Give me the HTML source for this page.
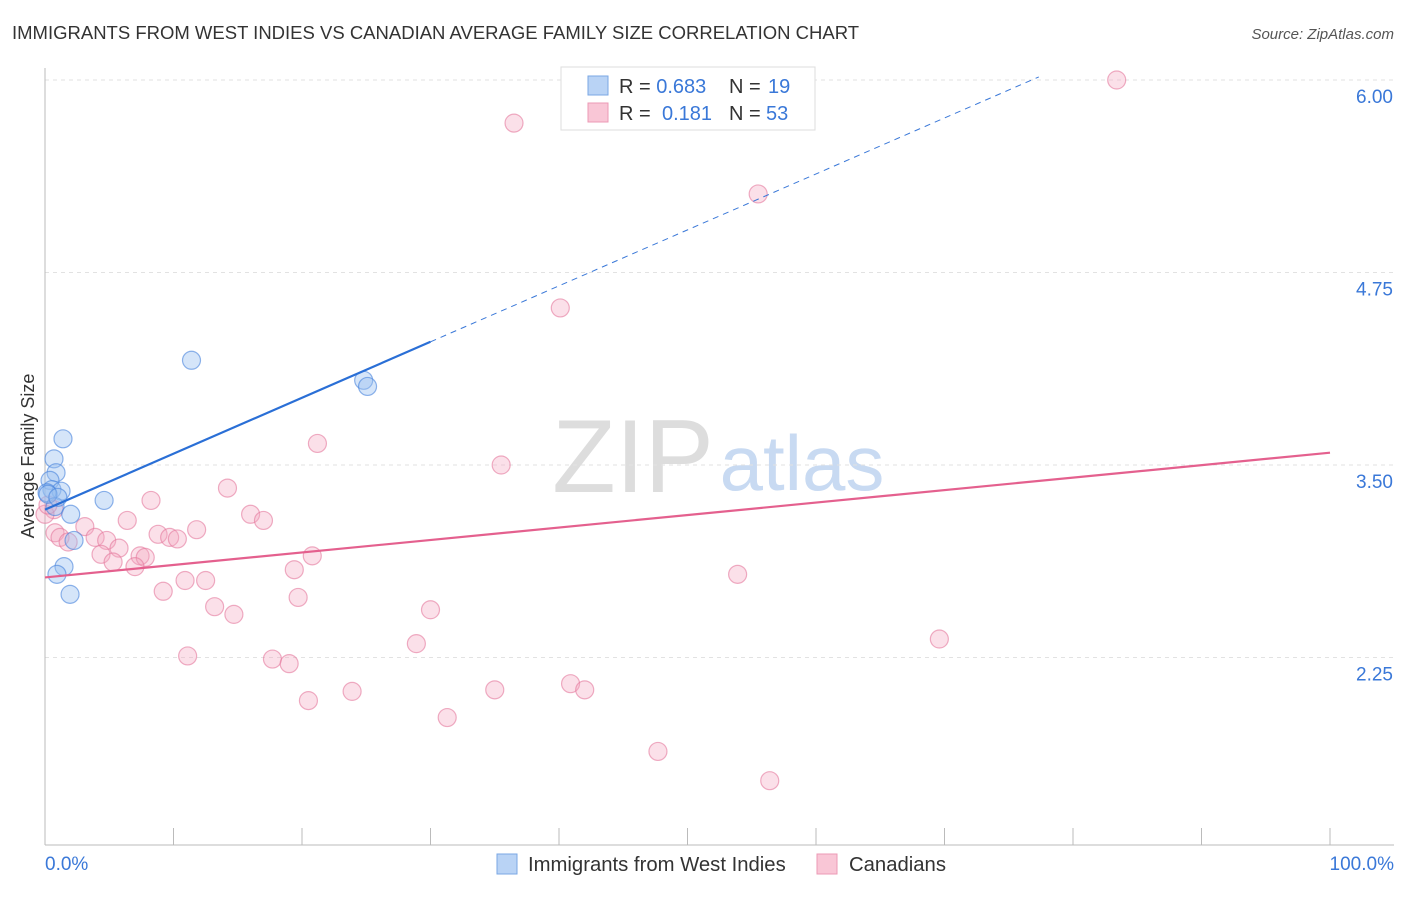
<!DOCTYPE html>
<html><head><meta charset="utf-8"><style>
body{margin:0;background:#fff;font-family:"Liberation Sans",sans-serif}
svg text{font-family:"Liberation Sans",sans-serif}
</style></head><body>
<svg id="c" width="1406" height="892">
<text x="12" y="39" font-size="18.5" fill="#333">IMMIGRANTS FROM WEST INDIES VS CANADIAN AVERAGE FAMILY SIZE CORRELATION CHART</text>
<text x="1394" y="39" font-size="15" fill="#555" text-anchor="end" font-style="italic">Source: ZipAtlas.com</text>
<g><text x="633" y="492" font-size="104" fill="#ddd" font-family="Liberation Serif" text-anchor="middle">ZIP</text><text x="802" y="490" font-size="78" fill="#c8daf2" text-anchor="middle">atlas</text></g>
<text transform="translate(34,456) rotate(-90)" font-size="18" fill="#333" text-anchor="middle">Average Family Size</text>
<g id="grid"></g><g id="marks"></g>
<g>
<rect x="561" y="67" width="254" height="63" fill="#fff" stroke="#ddd"/>
<rect x="588" y="76" width="20" height="19" fill="#b9d3f5" stroke="#7aa7e4"/>
<text x="619" y="93" font-size="20" fill="#333">R = <tspan fill="#3a78d8">0.683</tspan><tspan x="729">N = </tspan><tspan x="768" fill="#3a78d8">19</tspan></text>
<rect x="588" y="103" width="20" height="19" fill="#f9c6d6" stroke="#ec9ab5"/>
<text x="619" y="120" font-size="20" fill="#333">R = <tspan x="662" fill="#3a78d8">0.181</tspan><tspan x="729">N = </tspan><tspan x="766" fill="#3a78d8">53</tspan></text>
</g>
<g>
<rect x="497" y="854" width="20" height="20" fill="#b9d3f5" stroke="#7aa7e4"/>
<text x="528" y="871" font-size="20.3" fill="#333">Immigrants from West Indies</text>
<rect x="817" y="854" width="20" height="20" fill="#f9c6d6" stroke="#ec9ab5"/>
<text x="849" y="871" font-size="20.3" fill="#333">Canadians</text>
</g>
</svg>
<script>
const yTicks=[6.00,4.75,3.50,2.25];
const xTickLabels=["0.0%","100.0%"];
const blueX=[1.4,0.7,0.86,0.39,0.54,1.25,0.16,0.78,2.0,4.6,2.26,1.48,0.93,1.95,11.4,24.8,25.1,0.23,1.0];
const blueY=[3.67,3.54,3.45,3.40,3.34,3.33,3.32,3.23,3.18,3.27,3.01,2.84,2.79,2.66,4.18,4.05,4.01,3.31,3.29];
const pinkX=[83.4,36.5,55.5,40.1,21.2,35.5,14.2,8.25,16.0,17.0,6.4,0.7,3.1,0.78,11.8,8.8,9.7,10.3,1.17,1.8,3.9,4.8,5.76,4.36,7.4,7.8,5.3,7.0,20.8,19.4,10.9,12.5,53.9,9.2,19.7,13.2,14.7,30.0,28.9,69.6,11.1,17.7,19.0,23.9,35.0,40.9,42.0,20.5,31.3,47.7,56.4,0,0.23];
const pinkY=[6.00,5.72,5.26,4.52,3.64,3.50,3.35,3.27,3.18,3.14,3.14,3.21,3.10,3.06,3.08,3.05,3.03,3.02,3.03,3.00,3.03,3.01,2.96,2.92,2.91,2.90,2.87,2.84,2.91,2.82,2.75,2.75,2.79,2.68,2.64,2.58,2.53,2.56,2.34,2.37,2.26,2.24,2.21,2.03,2.04,2.08,2.04,1.97,1.86,1.64,1.45,3.18,3.24];
const blueLine=[3.21,4.30,30];
const pinkLine=[2.77,3.58];
const NS="http://www.w3.org/2000/svg";
const X=v=>45+v*12.85, Y=v=>80+(6-v)*154;
function mk(t,a,p){const e=document.createElementNS(NS,t);for(const k in a)e.setAttribute(k,a[k]);p.appendChild(e);return e;}
const g=document.getElementById('grid'), m=document.getElementById('marks');
yTicks.forEach(t=>{
 const l=mk('line',{x1:45,x2:1394,y1:Y(t),y2:Y(t),stroke:'#e2e2e2','stroke-dasharray':'4,4'},g);
 
 
 const tx=mk('text',{x:1393,y:Y(t)+23,'font-size':19,fill:'#3a78d8','text-anchor':'end'},g);tx.textContent=t.toFixed(2);
 
 
});
mk('line',{x1:45,x2:45,y1:68,y2:845,stroke:'#bbb'},g);
mk('line',{x1:45,x2:1394,y1:845,y2:845,stroke:'#bbb'},g);
for(let i=0;i<=10;i++){const t=mk('line',{x1:X(i*10),x2:X(i*10),y1:828,y2:845,stroke:'#bbb'},g);
 
 }
const xl0=mk('text',{x:45,y:870,'font-size':19,fill:'#3a78d8'},g);xl0.textContent=xTickLabels[0];


const xl1=mk('text',{x:1394,y:870,'font-size':19,fill:'#3a78d8','text-anchor':'end'},g);xl1.textContent=xTickLabels[1];


pinkX.forEach((x,i)=>{const c=mk('circle',{cx:X(x),cy:Y(pinkY[i]),r:9,fill:'rgba(244,166,191,0.35)',stroke:'rgba(228,120,156,0.6)','stroke-width':1.2},m);
 
 });
blueX.forEach((x,i)=>{const c=mk('circle',{cx:X(x),cy:Y(blueY[i]),r:9,fill:'rgba(150,190,240,0.4)',stroke:'rgba(70,130,220,0.6)','stroke-width':1.2},m);
 
 });
const slope=(blueLine[1]-blueLine[0])/blueLine[2];
const xEnd=(6.02-blueLine[0])/slope;
const bd=mk('line',{x1:X(blueLine[2]),y1:Y(blueLine[1]),x2:X(xEnd),y2:Y(6.02),stroke:'#3a78d8','stroke-width':1,'stroke-dasharray':'6,5'},m);


const bl=mk('line',{x1:X(0),y1:Y(blueLine[0]),x2:X(blueLine[2]),y2:Y(blueLine[1]),stroke:'#2a6fd6','stroke-width':2.2},m);


const pl=mk('line',{x1:X(0),y1:Y(pinkLine[0]),x2:X(100),y2:Y(pinkLine[1]),stroke:'#e4608e','stroke-width':2.2},m);


</script>
</body></html>
